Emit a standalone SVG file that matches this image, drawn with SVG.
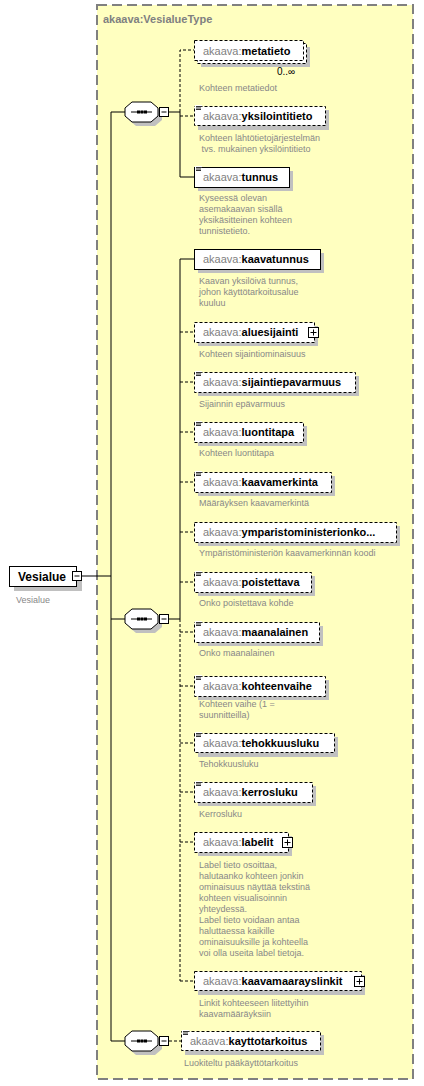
<svg xmlns="http://www.w3.org/2000/svg" xmlns:xlink="http://www.w3.org/1999/xlink" width="424" height="1086" viewBox="0 0 424 1086">
<style>
.el{fill:#fff;stroke:#000;stroke-width:1}
.opt{stroke-dasharray:3,2}
.sh{fill:#c0c0c0}
.nm{font-family:"Liberation Sans",Arial,sans-serif;font-size:11px;font-weight:bold;fill:#000}
.px{fill:#808080;font-weight:normal}
.ds{font-family:"Liberation Sans",Arial,sans-serif;font-size:9px;fill:#888}
.ln{stroke:#000;stroke-width:1;fill:none}
.dl{stroke:#000;stroke-width:1;fill:none;stroke-dasharray:3,2}
.ic{stroke:#000;stroke-width:1}
.pm{fill:#fff;stroke:#000;stroke-width:1}
</style>
<defs>
<g id="seq">
<polygon class="sh" points="11,-6 30,-6 37,0 37,8 30,14 11,14 4,8 4,0"/>
<polygon fill="#fff" stroke="#000" points="7,-10 26,-10 33,-4 33,4 26,10 7,10 0,4 0,-4"/>
<line x1="6" y1="0" x2="27" y2="0" stroke="#000"/>
<rect x="12" y="-1.5" width="3" height="3" fill="#000"/>
<rect x="15.5" y="-1.5" width="3" height="3" fill="#000"/>
<rect x="19" y="-1.5" width="3" height="3" fill="#000"/>
<rect class="pm" x="34.5" y="-4.5" width="9" height="9"/>
<line x1="36.5" y1="0" x2="41.5" y2="0" stroke="#000"/>
</g>
<g id="lines">
<rect x="0" y="0" width="7" height="5" fill="#fff"/>
<line x1="1" y1="1.5" x2="7" y2="1.5" stroke="#000" stroke-width="0.8"/>
<line x1="1" y1="3" x2="6" y2="3" stroke="#000" stroke-width="0.8"/>
<line x1="1" y1="4.5" x2="6" y2="4.5" stroke="#000" stroke-width="0.8"/>
</g>
<g id="plus">
<rect class="pm" x="0.5" y="0.5" width="10" height="10"/>
<line x1="2.5" y1="5.5" x2="8.5" y2="5.5" stroke="#000"/>
<line x1="5.5" y1="2.5" x2="5.5" y2="8.5" stroke="#000"/>
</g>
</defs>

<g id="type-VesialueType">
<rect x="97" y="5" width="316" height="1074" fill="#FFFFC0" stroke="#808080" stroke-width="2" stroke-dasharray="10,5"/>
<text x="103" y="23" font-family="Liberation Sans,Arial,sans-serif" font-size="11" font-weight="bold" fill="#808080">akaava:VesialueType</text>
</g>

<g id="connectors">
<line class="ln" x1="82" y1="576" x2="111" y2="576"/>
<line class="ln" x1="111" y1="112" x2="111" y2="1041"/>
<line class="ln" x1="111" y1="112" x2="125" y2="112"/>
<line class="ln" x1="111" y1="619" x2="125" y2="619"/>
<line class="ln" x1="111" y1="1041" x2="125" y2="1041"/>
<line class="ln" x1="169" y1="112" x2="180" y2="112"/>
<polyline class="dl" points="180,112 180,50 194,50"/>
<line class="dl" x1="180" y1="116" x2="194" y2="116"/>
<polyline class="ln" points="180,112 180,177 194,177"/>
<line class="ln" x1="169" y1="619" x2="180" y2="619"/>
<polyline class="ln" points="194,259 180,259 180,619"/>
<line class="dl" x1="180" y1="619" x2="180" y2="981"/>
<line class="dl" x1="180" y1="332" x2="194" y2="332"/>
<line class="dl" x1="180" y1="382" x2="194" y2="382"/>
<line class="dl" x1="180" y1="432" x2="194" y2="432"/>
<line class="dl" x1="180" y1="482" x2="194" y2="482"/>
<line class="dl" x1="180" y1="532" x2="194" y2="532"/>
<line class="dl" x1="180" y1="582" x2="194" y2="582"/>
<line class="dl" x1="180" y1="632" x2="194" y2="632"/>
<line class="dl" x1="180" y1="686" x2="194" y2="686"/>
<line class="dl" x1="180" y1="743" x2="194" y2="743"/>
<line class="dl" x1="180" y1="792" x2="194" y2="792"/>
<line class="dl" x1="180" y1="842" x2="194" y2="842"/>
<line class="dl" x1="180" y1="981" x2="194" y2="981"/>
<line class="dl" x1="169" y1="1041" x2="181" y2="1041"/>
</g>

<g id="Vesialue">
<rect class="sh" x="14" y="571" width="68" height="20"/>
<rect class="el" x="9.5" y="566.5" width="67" height="20"/>
<text x="18" y="581" font-family="Liberation Sans,Arial,sans-serif" font-size="12" font-weight="bold">Vesialue</text>
<rect class="pm" x="72.5" y="571.5" width="9" height="9"/>
<line x1="74.5" y1="576" x2="79.5" y2="576" stroke="#000"/>
<text class="ds" x="16" y="603">Vesialue</text>
</g>

<g id="seq1"><use xlink:href="#seq" transform="translate(125,112)"/></g>
<g id="seq2"><use xlink:href="#seq" transform="translate(125,619)"/></g>
<g id="seq3"><use xlink:href="#seq" transform="translate(125,1041)"/></g>

<g id="metatieto">
<rect class="sh" x="201" y="47" width="109" height="20"/>
<rect class="el opt" x="197.5" y="43.5" width="109" height="20"/>
<rect class="el opt" x="194.5" y="40.5" width="109" height="20"/>
<text class="nm" x="203" y="55"><tspan class="px">akaava:</tspan>metatieto</text>
<text x="277" y="75" font-family="Liberation Sans,Arial,sans-serif" font-size="10" fill="#000">0..∞</text>
<text class="ds" x="199" y="91">Kohteen metatiedot</text>
</g>

<g id="yksilointitieto">
<rect class="sh" x="198" y="110" width="131" height="20"/>
<rect class="el opt" x="194.5" y="106.5" width="131" height="19"/>
<use xlink:href="#lines" x="195" y="105"/>
<text class="nm" x="203" y="120"><tspan class="px">akaava:</tspan>yksilointitieto</text>
<text class="ds" x="199" y="141">Kohteen lähtötietojärjestelmän</text>
<text class="ds" x="199" y="152" xml:space="preserve"> tvs. mukainen yksilöintitieto</text>
</g>

<g id="tunnus">
<rect class="sh" x="198" y="171" width="95" height="20"/>
<rect class="el" x="194.5" y="167.5" width="95" height="20"/>
<use xlink:href="#lines" x="195" y="166"/>
<text class="nm" x="203" y="181"><tspan class="px">akaava:</tspan>tunnus</text>
<text class="ds" x="199" y="201">Kyseessä olevan</text>
<text class="ds" x="199" y="212">asemakaavan sisällä</text>
<text class="ds" x="199" y="223">yksikäsitteinen kohteen</text>
<text class="ds" x="199" y="234">tunnistetieto.</text>
</g>

<g id="kaavatunnus">
<rect class="sh" x="198" y="253" width="126" height="20"/>
<rect class="el" x="194.5" y="249.5" width="126" height="20"/>
<text class="nm" x="203" y="263"><tspan class="px">akaava:</tspan>kaavatunnus</text>
<text class="ds" x="199" y="284">Kaavan yksilöivä tunnus,</text>
<text class="ds" x="199" y="295">johon käyttötarkoitusalue</text>
<text class="ds" x="199" y="306">kuuluu</text>
</g>

<g id="aluesijainti">
<rect class="sh" x="198" y="326" width="120" height="20"/>
<rect class="el opt" x="194.5" y="322.5" width="120" height="20"/>
<text class="nm" x="203" y="336"><tspan class="px">akaava:</tspan>aluesijainti</text>
<use xlink:href="#plus" x="308" y="327"/>
<text class="ds" x="199" y="357">Kohteen sijaintiominaisuus</text>
</g>

<g id="sijaintiepavarmuus">
<rect class="sh" x="198" y="376" width="161" height="20"/>
<rect class="el opt" x="194.5" y="372.5" width="161" height="20"/>
<use xlink:href="#lines" x="195" y="371"/>
<text class="nm" x="203" y="386"><tspan class="px">akaava:</tspan>sijaintiepavarmuus</text>
<text class="ds" x="199" y="407">Sijainnin epävarmuus</text>
</g>

<g id="luontitapa">
<rect class="sh" x="198" y="426" width="109" height="20"/>
<rect class="el opt" x="194.5" y="422.5" width="109" height="20"/>
<use xlink:href="#lines" x="195" y="421"/>
<text class="nm" x="203" y="436"><tspan class="px">akaava:</tspan>luontitapa</text>
<text class="ds" x="199" y="456">Kohteen luontitapa</text>
</g>

<g id="kaavamerkinta">
<rect class="sh" x="198" y="476" width="137" height="20"/>
<rect class="el opt" x="194.5" y="472.5" width="137" height="20"/>
<use xlink:href="#lines" x="195" y="471"/>
<text class="nm" x="203" y="486"><tspan class="px">akaava:</tspan>kaavamerkinta</text>
<text class="ds" x="199" y="506">Määräyksen kaavamerkintä</text>
</g>

<g id="ymparistoministerionkoodi">
<rect class="sh" x="198" y="526" width="202" height="20"/>
<rect class="el opt" x="194.5" y="522.5" width="202" height="20"/>
<text class="nm" x="203" y="536"><tspan class="px">akaava:</tspan>ymparistoministerionko...</text>
<text class="ds" x="199" y="556">Ympäristöministeriön kaavamerkinnän koodi</text>
</g>

<g id="poistettava">
<rect class="sh" x="198" y="576" width="117" height="20"/>
<rect class="el opt" x="194.5" y="572.5" width="117" height="20"/>
<use xlink:href="#lines" x="195" y="571"/>
<text class="nm" x="203" y="586"><tspan class="px">akaava:</tspan>poistettava</text>
<text class="ds" x="199" y="606">Onko poistettava kohde</text>
</g>

<g id="maanalainen">
<rect class="sh" x="198" y="626" width="125" height="20"/>
<rect class="el opt" x="194.5" y="622.5" width="125" height="20"/>
<use xlink:href="#lines" x="195" y="621"/>
<text class="nm" x="203" y="636"><tspan class="px">akaava:</tspan>maanalainen</text>
<text class="ds" x="199" y="656">Onko maanalainen</text>
</g>

<g id="kohteenvaihe">
<rect class="sh" x="198" y="680" width="131" height="20"/>
<rect class="el opt" x="194.5" y="676.5" width="131" height="20"/>
<use xlink:href="#lines" x="195" y="675"/>
<text class="nm" x="203" y="690"><tspan class="px">akaava:</tspan>kohteenvaihe</text>
<text class="ds" x="199" y="707">Kohteen vaihe (1 =</text>
<text class="ds" x="199" y="718">suunnitteilla)</text>
</g>

<g id="tehokkuusluku">
<rect class="sh" x="198" y="737" width="140" height="20"/>
<rect class="el opt" x="194.5" y="733.5" width="140" height="19"/>
<use xlink:href="#lines" x="195" y="732"/>
<text class="nm" x="203" y="747"><tspan class="px">akaava:</tspan>tehokkuusluku</text>
<text class="ds" x="199" y="767">Tehokkuusluku</text>
</g>

<g id="kerrosluku">
<rect class="sh" x="198" y="786" width="118" height="20"/>
<rect class="el opt" x="194.5" y="782.5" width="118" height="20"/>
<use xlink:href="#lines" x="195" y="781"/>
<text class="nm" x="203" y="796"><tspan class="px">akaava:</tspan>kerrosluku</text>
<text class="ds" x="199" y="817">Kerrosluku</text>
</g>

<g id="labelit">
<rect class="sh" x="198" y="836" width="94" height="20"/>
<rect class="el opt" x="194.5" y="832.5" width="94" height="20"/>
<text class="nm" x="203" y="846"><tspan class="px">akaava:</tspan>labelit</text>
<use xlink:href="#plus" x="282" y="837"/>
<text class="ds" x="199" y="868">Label tieto osoittaa,</text>
<text class="ds" x="199" y="879">halutaanko kohteen jonkin</text>
<text class="ds" x="199" y="890">ominaisuus näyttää tekstinä</text>
<text class="ds" x="199" y="901">kohteen visualisoinnin</text>
<text class="ds" x="199" y="912">yhteydessä.</text>
<text class="ds" x="199" y="923">Label tieto voidaan antaa</text>
<text class="ds" x="199" y="934">haluttaessa kaikille</text>
<text class="ds" x="199" y="945">ominaisuuksille ja kohteella</text>
<text class="ds" x="199" y="956">voi olla useita label tietoja.</text>
</g>

<g id="kaavamaarayslinkit">
<rect class="sh" x="198" y="975" width="167" height="20"/>
<rect class="el opt" x="194.5" y="971.5" width="167" height="19"/>
<text class="nm" x="203" y="985"><tspan class="px">akaava:</tspan>kaavamaarayslinkit</text>
<use xlink:href="#plus" x="354" y="976"/>
<text class="ds" x="199" y="1006">Linkit kohteeseen liitettyihin</text>
<text class="ds" x="199" y="1017">kaavamääräyksiin</text>
</g>

<g id="kayttotarkoitus">
<rect class="sh" x="185" y="1035" width="139" height="20"/>
<rect class="el opt" x="181.5" y="1031.5" width="139" height="19"/>
<use xlink:href="#lines" x="182" y="1030"/>
<text class="nm" x="190" y="1045"><tspan class="px">akaava:</tspan>kayttotarkoitus</text>
<text class="ds" x="184" y="1066">Luokiteltu pääkäyttötarkoitus</text>
</g>
</svg>
